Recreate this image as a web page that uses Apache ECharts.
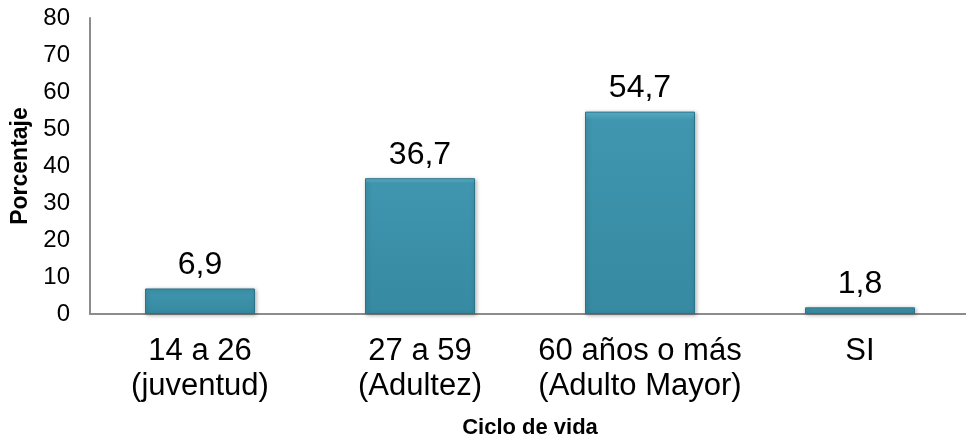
<!DOCTYPE html>
<html><head><meta charset="utf-8">
<script src="https://cdn.jsdelivr.net/npm/echarts@6/dist/echarts.min.js"></script>
<style>html,body{margin:0;padding:0;background:#fff}#c{width:966px;height:438px}</style>
</head><body><div id="c"></div>
<script>
const categories = ["14 a 26\n(juventud)", "27 a 59\n(Adultez)", "60 años o más\n(Adulto Mayor)", "SI"];
const values = [6.9, 36.7, 54.7, 1.8];
const yTicks = {min: 0, max: 80, interval: 10};

const chart = echarts.init(document.getElementById('c'), null, {renderer: 'canvas'});
const font = 'Arial, "Liberation Sans", sans-serif';
chart.setOption({
  animation: false,
  grid: {left: 90, right: -4, top: 18, bottom: 124, containLabel: false, outerBoundsMode: 'none'},
  xAxis: {
    type: 'category', data: categories,
    name: 'Ciclo de vida', nameLocation: 'middle', nameGap: 103,
    nameTextStyle: {fontFamily: font, fontSize: 22, fontWeight: 'bold', color: '#000'},
    axisLine: {lineStyle: {color: '#8c8c8c', width: 2}},
    axisTick: {show: false},
    axisLabel: {fontFamily: font, fontSize: 31, color: '#000', lineHeight: 35, margin: 20, interval: 0}
  },
  yAxis: {
    type: 'value', min: yTicks.min, max: yTicks.max, interval: yTicks.interval,
    name: 'Porcentaje', nameLocation: 'middle', nameGap: 56, nameRotate: 90,
    nameTextStyle: {fontFamily: font, fontSize: 23, fontWeight: 'bold', color: '#000'},
    axisLine: {show: true, lineStyle: {color: '#8c8c8c', width: 2}},
    axisTick: {show: false},
    splitLine: {show: false},
    axisLabel: {fontFamily: font, fontSize: 24, color: '#000', margin: 20}
  },
  series: [{
    type: 'bar', data: values, barWidth: '50%',
    itemStyle: {
      color: {type: 'linear', x: 0, y: 0, x2: 0, y2: 1, colorStops: [
        {offset: 0, color: '#5db8d1'}, {offset: 0.04, color: '#3f96ae'}, {offset: 1, color: '#368aa2'}]},
      borderColor: '#2b7389', borderWidth: 1,
      shadowColor: 'rgba(0,0,0,0.3)', shadowBlur: 4, shadowOffsetX: 1, shadowOffsetY: 1
    },
    label: {
      show: true, position: 'top', distance: 7,
      fontFamily: font, fontSize: 32, color: '#000',
      formatter: p => String(p.value).replace('.', ',')
    }
  }]
});
</script></body></html>
